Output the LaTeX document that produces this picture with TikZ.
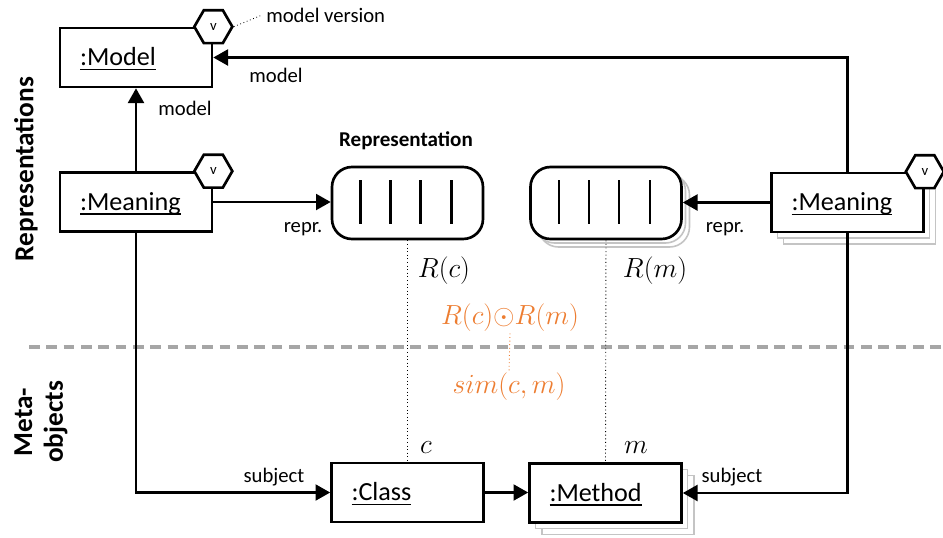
\documentclass[tikz,border=0pt]{standalone}
\usepackage{fontspec}
\setmainfont{Carlito}
\usetikzlibrary{arrows.meta,shapes.geometric}
\definecolor{accent}{HTML}{ED7D31}
\definecolor{shade}{HTML}{C4C4C4}
\definecolor{divider}{HTML}{A6A6A6}
% underline at a fixed offset below the baseline, independent of descenders
\newcommand\objname[1]{\setbox0\hbox{#1}\rlap{\rule[-3.6pt]{\wd0}{1.1pt}}\box0}
\begin{document}
\begin{tikzpicture}[x=0.75pt,y=-0.75pt,
  objbox/.style={draw, line width=2pt, fill=white, minimum width=114pt, minimum height=44.25pt,
    text width=84pt, inner xsep=15pt, align=left, text height=12pt, text depth=0pt,
    font=\fontsize{19.6}{22}\selectfont},
  objshadow/.style={draw=shade, line width=1.2pt, fill=white, minimum width=114pt, minimum height=44.25pt},
  repbox/.style={draw, line width=2pt, fill=white, rounded corners=15pt, minimum width=113.25pt, minimum height=54pt},
  repshadow/.style={draw=shade, line width=1.2pt, fill=white, rounded corners=15pt, minimum width=113.25pt, minimum height=54pt},
  bar/.style={line width=1.6pt},
  version/.style={regular polygon, regular polygon sides=6, draw, line width=2pt, fill=white,
    minimum size=28.5pt, inner sep=0pt, font=\fontsize{11}{11}\selectfont},
  conn/.style={line width=1.6pt, -{Triangle[length=11pt,width=12pt]}},
  lbl/.style={font=\fontsize{15.5}{18}\selectfont, inner sep=1pt},
  heading/.style={font=\bfseries\fontsize{15.8}{18}\selectfont, inner sep=1pt},
  band/.style={font=\bfseries\fontsize{20.5}{23}\selectfont, rotate=90, align=center, inner sep=1pt},
  mathlbl/.style={font=\fontsize{20.74}{23}\selectfont, inner sep=1pt},
  link/.style={dotted, line width=0.7pt},
  divline/.style={draw=divider, line width=2.3pt, dash pattern=on 8pt off 5pt}
]
\useasboundingbox (0,0) rectangle (943,537);

% band captions and divider
\node[band] (bandrep) at (26,169) {Representations};
\node[band] (bandmeta) at (41,422) {Meta-\\objects};
\coordinate (divL) at (29,347);
\coordinate (divR) at (943,347);
\draw[divline] (divL) -- (divR);

% objects
\node[objbox] (model) at (136,57.5) {\objname{:Model}};
\node[objbox] (lmean) at (136,202) {\objname{:Meaning}};

\node[objshadow] (rmeans2) at (859.5,214.5) {};
\node[objshadow] (rmeans1) at (853.5,208.5) {};
\node[objbox] (rmean) at (847.5,202.5) {\objname{:Meaning}};

\node[objbox] (class) at (407.5,492.5) {\objname{:Class}};

\node[objshadow] (meths2) at (618,505) {};
\node[objshadow] (meths1) at (611.5,499) {};
\node[objbox] (method) at (605.5,493) {\objname{:Method}};

% representation vectors
\node[repbox] (rep1) at (407.5,203) {};
\node[repshadow] (rep2s2) at (614,211) {};
\node[repshadow] (rep2s1) at (610,207) {};
\node[repbox] (rep2) at (606,203) {};
\foreach \r in {rep1,rep2}{
  \foreach \dx in {-47,-17,13,44}{
    \draw[bar, shift={(\r.center)}] (\dx,-23) -- (\dx,21);
  }
}
\node[heading] (rephead) at (406,141) {Representation};

% version tags
\node[version] (vmodel) at (model.north east) {v};
\node[version] (vlmean) at (lmean.north east) {v};
\node[version] (vrmean) at (rmean.north east) {v};
\node[lbl, anchor=west, inner sep=3pt] (mver) at (262,15) {model version};
\draw[link, line width=0.6pt] (vmodel.east) -- (mver.west);

% connectors
\draw[conn] (lmean.north) -- (model.south);
\draw[conn] (rmean.north) |- (model.east);
\draw[conn] (lmean.east) -- (lmean.east -| rep1.west);
\draw[conn] (rmean.west) -- (rmean.west -| rep2.east);
\draw[conn] (lmean.south) |- (class.west);
\draw[conn] (rmean.south) |- (method.east);
\draw[conn] (class.east) -- (class.east -| method.west);

\node[lbl] (lmodel1) at (185,108) {model};
\node[lbl] (lmodel2) at (276,75) {model};
\node[lbl] (lrepr1) at (303,229) {repr.};
\node[lbl] (lrepr2) at (725,229) {repr.};
\node[lbl] (lsubj1) at (274,477) {subject};
\node[lbl] (lsubj2) at (732,477) {subject};

% element correspondence
\draw[link] (rep1.south) -- (class.north);
\draw[link] (rep2.south) -- (method.north);
\node[mathlbl] (rc) at (444,271) {$R(c)$};
\node[mathlbl] (rm) at (655,271) {$R(m)$};
\node[mathlbl] (cc) at (426,448) {$c$};
\node[mathlbl] (mm) at (636,448) {$m$};

% similarity
\node[mathlbl, text=accent] (simexpr) at (510,318) {$R(c){\odot}R(m)$};
\node[mathlbl, text=accent] (simfn) at (509,387) {$sim(c,m)$};
\draw[link, draw=accent] (simexpr.south) -- (simfn.north);
\end{tikzpicture}
\end{document}
